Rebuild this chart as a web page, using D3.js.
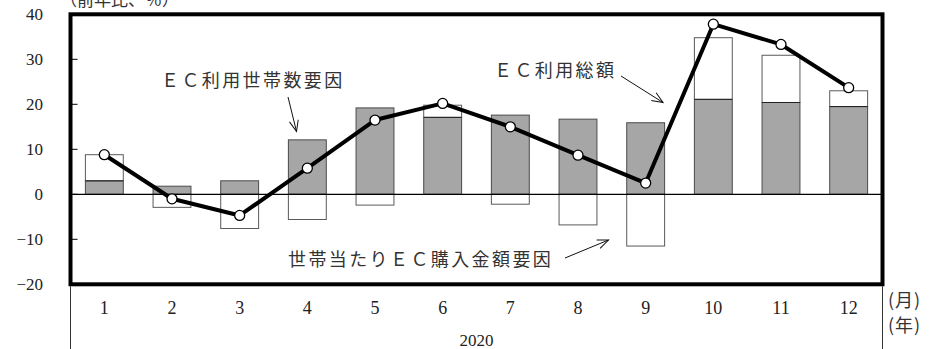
<!DOCTYPE html>
<html>
<head>
<meta charset="utf-8">
<script src="https://cdn.jsdelivr.net/npm/d3@7"></script>
<style>
  html, body { margin: 0; padding: 0; background: #fff; }
  svg { display: block; }
  .num { font-family: "Liberation Serif", "DejaVu Serif", serif; fill: #222; }
  .jp { font-family: "Noto Sans CJK JP", sans-serif; fill: #333; }
</style>
</head>
<body>
<svg id="chart" width="929" height="349"></svg>
<script>
// 月次ラベル
const months = ["1", "2", "3", "4", "5", "6", "7", "8", "9", "10", "11", "12"];
// EC利用世帯数要因（寄与度、％ポイント）
const householdFactor = [3.0, 1.8, 3.0, 12.1, 19.2, 17.1, 17.6, 16.7, 15.9, 21.1, 20.4, 19.5];
// 世帯当たりEC購入金額要因（寄与度、％ポイント）
const amountFactor = [5.8, -2.9, -7.6, -5.6, -2.4, 2.7, -2.2, -6.8, -11.5, 13.7, 10.5, 3.5];
// EC利用総額（前年比、％）
const totalGrowth = [8.8, -1.0, -4.7, 5.8, 16.5, 20.2, 15.0, 8.7, 2.5, 37.8, 33.3, 23.7];
// 縦軸目盛
const yTicks = [-20, -10, 0, 10, 20, 30, 40];
const yearLabel = "2020";

const svg = d3.select("#chart");
const plotL = 70.5, plotR = 882.5, plotT = 14.3, plotB = 284.3;

const x = d3.scaleBand()
  .domain(months)
  .range([plotL, plotR])
  .paddingInner(0.44)
  .paddingOuter(0.22);

const y = d3.scaleLinear().domain([-20, 40]).range([plotB, plotT]);

// 棒グラフ（世帯数要因＝灰色、金額要因＝白）
const rows = months.map((m, i) => ({
  m, h: householdFactor[i], a: amountFactor[i], t: totalGrowth[i]
}));

const g = svg.append("g");

g.selectAll("rect.hh")
  .data(rows)
  .join("rect")
  .attr("class", "hh")
  .attr("x", d => x(d.m))
  .attr("width", x.bandwidth())
  .attr("y", d => y(Math.max(0, d.h)))
  .attr("height", d => Math.abs(y(d.h) - y(0)))
  .attr("fill", "#a6a6a6")
  .attr("stroke", "#4a4a4a")
  .attr("stroke-width", 1);

g.selectAll("rect.amt")
  .data(rows)
  .join("rect")
  .attr("class", "amt")
  .attr("x", d => x(d.m))
  .attr("width", x.bandwidth())
  .attr("y", d => d.a >= 0 ? y(d.h + d.a) : y(0))
  .attr("height", d => d.a >= 0 ? y(d.h) - y(d.h + d.a) : y(d.a) - y(0))
  .attr("fill", "#fff")
  .attr("stroke", "#5a5a5a")
  .attr("stroke-width", 1);

// 白棒の上に乗る場合の境界線
g.selectAll("line.sep")
  .data(rows.filter(d => d.a >= 0))
  .join("line")
  .attr("x1", d => x(d.m))
  .attr("x2", d => x(d.m) + x.bandwidth())
  .attr("y1", d => y(d.h))
  .attr("y2", d => y(d.h))
  .attr("stroke", "#222")
  .attr("stroke-width", 1);

// ゼロ線
g.append("line")
  .attr("x1", plotL).attr("x2", plotR)
  .attr("y1", y(0)).attr("y2", y(0))
  .attr("stroke", "#000").attr("stroke-width", 1.2);

// 目盛（内向き）
g.selectAll("line.tick")
  .data(yTicks.filter(v => v > -20 && v < 40))
  .join("line")
  .attr("x1", plotL).attr("x2", plotL + 7)
  .attr("y1", d => y(d)).attr("y2", d => y(d))
  .attr("stroke", "#000").attr("stroke-width", 1);

// 目盛ラベル
svg.selectAll("text.ytick")
  .data(yTicks)
  .join("text")
  .attr("class", "num")
  .attr("x", 43)
  .attr("y", d => y(d))
  .attr("dy", "0.35em")
  .attr("text-anchor", "end")
  .attr("font-size", 17)
  .text(d => d < 0 ? "\u2212" + Math.abs(d) : d);

// EC利用総額の折れ線
const cx = d => x(d.m) + x.bandwidth() / 2;
g.append("path")
  .datum(rows)
  .attr("d", d3.line().x(cx).y(d => y(d.t)))
  .attr("fill", "none")
  .attr("stroke", "#000")
  .attr("stroke-width", 4)
  .attr("stroke-linejoin", "round");

g.selectAll("circle.pt")
  .data(rows)
  .join("circle")
  .attr("class", "pt")
  .attr("cx", cx)
  .attr("cy", d => y(d.t))
  .attr("r", 5)
  .attr("fill", "#fff")
  .attr("stroke", "#000")
  .attr("stroke-width", 1.3);

// 外枠
svg.append("rect")
  .attr("x", plotL).attr("y", plotT)
  .attr("width", plotR - plotL).attr("height", plotB - plotT)
  .attr("fill", "none")
  .attr("stroke", "#000")
  .attr("stroke-width", 4);

// 下部の区切り線
[plotL, plotR].forEach(xx => {
  svg.append("line")
    .attr("x1", xx).attr("x2", xx)
    .attr("y1", plotB + 2).attr("y2", 349)
    .attr("stroke", "#333").attr("stroke-width", 1);
});

// 月ラベル
svg.selectAll("text.month")
  .data(months)
  .join("text")
  .attr("class", "num")
  .attr("x", d => x(d) + x.bandwidth() / 2)
  .attr("y", 308)
  .attr("dy", "0.35em")
  .attr("text-anchor", "middle")
  .attr("font-size", 18)
  .text(d => d);

svg.append("text")
  .attr("class", "num")
  .attr("x", (plotL + plotR) / 2)
  .attr("y", 340)
  .attr("dy", "0.35em")
  .attr("text-anchor", "middle")
  .attr("font-size", 17)
  .text(yearLabel);

svg.append("text").attr("class", "jp")
  .attr("x", 888).attr("y", 301).attr("dy", "0.35em")
  .attr("font-size", 18).attr("letter-spacing", "1px")
  .text("(月)");
svg.append("text").attr("class", "jp")
  .attr("x", 888).attr("y", 326).attr("dy", "0.35em")
  .attr("font-size", 18).attr("letter-spacing", "1px")
  .text("(年)");

// 単位
svg.append("text").attr("class", "jp")
  .attr("x", 60).attr("y", 6)
  .attr("font-size", 17).text("（前年比、％）");

// 注記と矢印
const defs = svg.append("defs");
defs.append("marker")
  .attr("id", "arr")
  .attr("viewBox", "-12 -6 14 12")
  .attr("refX", 0).attr("refY", 0)
  .attr("markerWidth", 14).attr("markerHeight", 12)
  .attr("markerUnits", "userSpaceOnUse")
  .attr("orient", "auto")
  .append("path")
  .attr("d", "M-11,-4.5L0,0L-11,4.5")
  .attr("fill", "none")
  .attr("stroke", "#111")
  .attr("stroke-width", 1);

const notes = [
  { text: "ＥＣ利用世帯数要因", x: 161, y: 81, ax1: 288, ay1: 97, ax2: 296.5, ay2: 131.5 },
  { text: "ＥＣ利用総額", x: 494, y: 71, ax1: 621, ay1: 76, ax2: 663, ay2: 102.5 },
  { text: "世帯当たりＥＣ購入金額要因", x: 288, y: 260, ax1: 565, ay1: 258, ax2: 608.5, ay2: 240 }
];

notes.forEach(n => {
  svg.append("text").attr("class", "jp")
    .attr("x", n.x).attr("y", n.y).attr("dy", "0.36em")
    .attr("font-size", 18)
    .attr("letter-spacing", "2.4px")
    .text(n.text);
  svg.append("line")
    .attr("x1", n.ax1).attr("y1", n.ay1)
    .attr("x2", n.ax2).attr("y2", n.ay2)
    .attr("stroke", "#111").attr("stroke-width", 1)
    .attr("marker-end", "url(#arr)");
});
</script>
</body>
</html>
